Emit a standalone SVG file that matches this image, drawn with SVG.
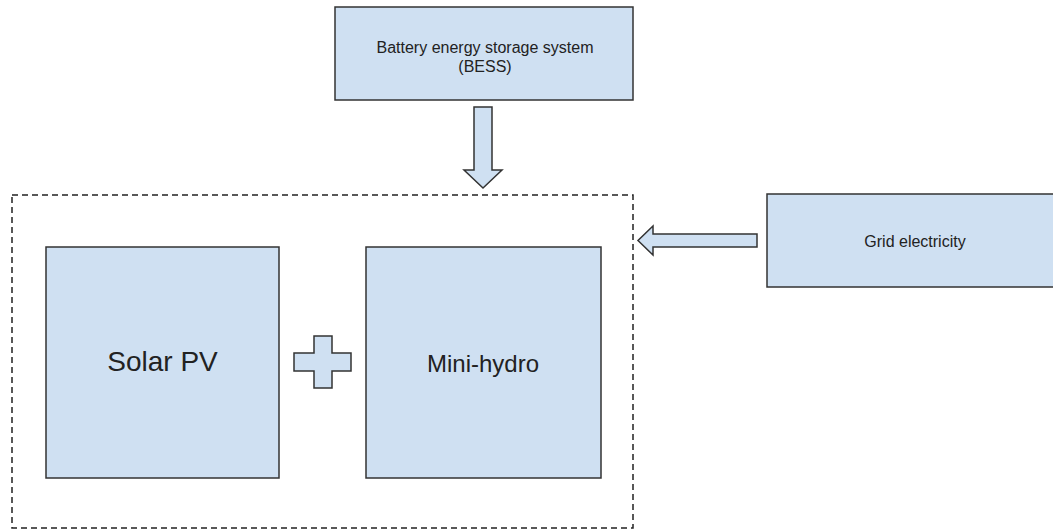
<svg xmlns="http://www.w3.org/2000/svg" width="1053" height="530" viewBox="0 0 1053 530">
<style>
.box{fill:#cfe0f2;stroke:#333;stroke-width:1.5}
.shape{fill:#cfe0f2;stroke:#333;stroke-width:1.5;stroke-linejoin:miter}
.dash{fill:none;stroke:#222;stroke-width:1.5;stroke-dasharray:6,4}
text{font-family:"Liberation Sans",Arial,sans-serif;fill:#222;text-anchor:middle}
</style>
<rect width="1053" height="530" fill="#fff"/>
<g id="container"><rect class="dash" x="12" y="195" width="621" height="333"/></g>
<g id="bess"><rect class="box" x="335" y="7" width="298" height="93"/>
<text x="485" y="53" font-size="16">Battery energy storage system</text>
<text x="485" y="72" font-size="16">(BESS)</text></g>
<g id="grid"><rect class="box" x="767" y="194" width="290" height="93"/>
<text x="915" y="247" font-size="16">Grid electricity</text></g>
<g id="solar"><rect class="box" x="46" y="247" width="233" height="231"/>
<text x="162.5" y="371" font-size="28">Solar PV</text></g>
<g id="hydro"><rect class="box" x="366" y="247" width="235" height="231"/>
<text x="483" y="372" font-size="24">Mini-hydro</text></g>
<g id="plus"><path class="shape" d="M314,336 H332 V353 H351 V371 H332 V388 H314 V371 H294 V353 H314 Z"/></g>
<g id="connectors">
<path class="shape" d="M474,107 H492 V170 H502 L483,188 L464,170 H474 Z"/>
<path class="shape" d="M757,234 V247 H653 V255 L638,240.5 L653,226 V234 Z"/>
</g>
</svg>
